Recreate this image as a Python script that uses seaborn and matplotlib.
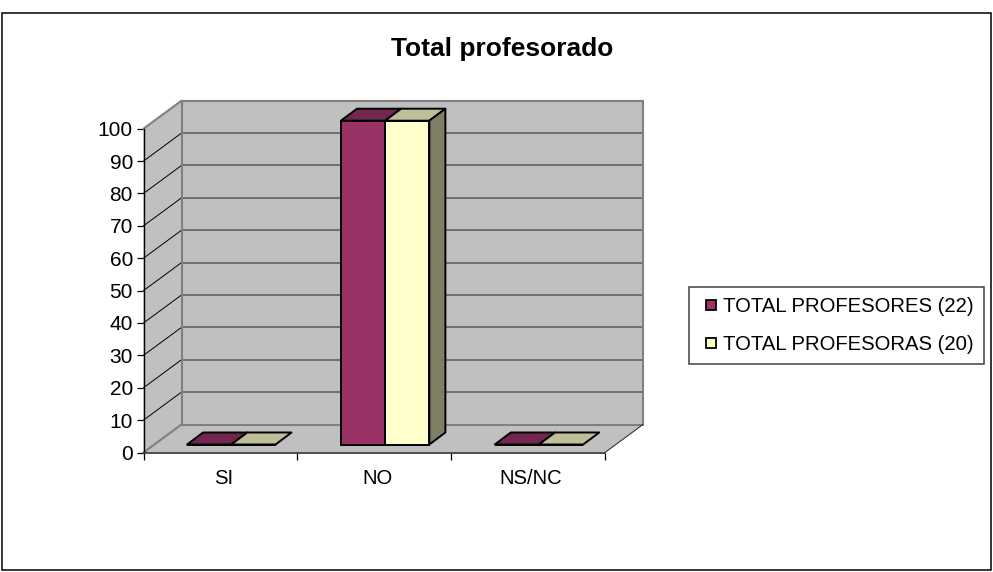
import pandas as pd
import seaborn as sns
import matplotlib.pyplot as plt
from matplotlib.lines import Line2D
from matplotlib.patches import Polygon, Rectangle
from matplotlib.transforms import ScaledTranslation

# datos del grafico
categorias = ['SI', 'NO', 'NS/NC']
profesores = [0, 100, 0]
profesoras = [0, 100, 0]
series = ['TOTAL PROFESORES (22)', 'TOTAL PROFESORAS (20)']
y_ticks = [0, 10, 20, 30, 40, 50, 60, 70, 80, 90, 100]

color_front = ['#993366', '#FFFFCC']
color_top = ['#732650', '#BFBF99']
color_side = '#7F7F66'
color_wall = '#C0C0C0'

W, H = 993, 572
sns.set_style('white')
plt.rcParams['font.family'] = ['Liberation Sans', 'DejaVu Sans']

df = pd.DataFrame({
    'cat': categorias * 2,
    'valor': profesores + profesoras,
    'serie': [series[0]] * 3 + [series[1]] * 3,
})

fig = plt.figure(figsize=(W / 100, H / 100), dpi=100)
ax = fig.add_axes([143.5 / W, 1 - 452.5 / H, 461.5 / W, 323.8 / H])

sns.barplot(data=df, x='cat', y='valor', hue='serie', order=categorias, hue_order=series,
            palette=color_front, saturation=1, width=0.575, gap=0, dodge=True,
            edgecolor='black', linewidth=1.4, legend=False, ax=ax, zorder=5)
ax.set_xlim(-0.5, 2.5)
ax.set_ylim(0, 100)
ax.set_xlabel('')
ax.set_ylabel('')
ax.patch.set_alpha(0)

# profundidad en unidades de los ejes
px_x = 3 / 461.5
px_y = 100 / 323.8
dx = 38 * px_x
dy = 28 * px_y
x0, x1 = -0.5, 2.5

# paredes y suelo
wall = [
    [(x0 + dx, dy), (x1 + dx, dy), (x1 + dx, 100 + dy), (x0 + dx, 100 + dy)],
    [(x0, 0), (x0 + dx, dy), (x0 + dx, 100 + dy), (x0, 100)],
    [(x0, 0), (x1, 0), (x1 + dx, dy), (x0 + dx, dy)],
]
for pts in wall:
    ax.add_patch(Polygon(pts, closed=True, fc=color_wall, ec='none', zorder=1, clip_on=False))

for v in y_ticks:
    borde = v in (0, 100)
    ax.plot([x0 + dx, x1 + dx], [v + dy, v + dy], color='#808080' if borde else '#5A5A5A',
            lw=1.5 if borde else 1.1, zorder=2, clip_on=False)
    ax.plot([x0, x0 + dx], [v, v + dy], color='#808080' if borde else 'black',
            lw=1.5 if borde else 0.7, zorder=2, clip_on=False)
ax.plot([x0 + dx, x0 + dx], [dy, 100 + dy], color='#808080', lw=1.5, zorder=2, clip_on=False)
ax.plot([x1 + dx, x1 + dx], [dy, 100 + dy], color='#808080', lw=1.5, zorder=2, clip_on=False)
ax.plot([x1, x1 + dx], [0, dy], color='#202020', lw=0.7, zorder=2, clip_on=False)

# caras 3D de las barras
off_x = 10.9 * px_x
off_y = 8 * px_y
bar_dx = 16 * px_x
bar_dy = 12 * px_y
for i, cont in enumerate(ax.containers):
    for bar in cont:
        bar.set_clip_on(False)
        bar.set_x(bar.get_x() + off_x)
        bar.set_y(off_y)
        xa = bar.get_x()
        xb = xa + bar.get_width()
        yb = off_y + bar.get_height()
        top = [(xa, yb), (xb, yb), (xb + bar_dx, yb + bar_dy), (xa + bar_dx, yb + bar_dy)]
        ax.add_patch(Polygon(top, closed=True, fc=color_top[i], ec='black', lw=1.4,
                             joinstyle='round', zorder=4, clip_on=False))
        if i == 1 and bar.get_height() > 0:
            side = [(xb, off_y), (xb + bar_dx, off_y + bar_dy), (xb + bar_dx, yb + bar_dy), (xb, yb)]
            ax.add_patch(Polygon(side, closed=True, fc=color_side, ec='black', lw=1.4,
                                 joinstyle='round', zorder=4, clip_on=False))

# ejes
for s in ['top', 'right']:
    ax.spines[s].set_visible(False)
ax.spines['left'].set(color='black', linewidth=1.0, zorder=6)
ax.spines['bottom'].set(color='#404040', linewidth=1.3, zorder=6)
ax.set_yticks(y_ticks)
ax.set_xticks([0, 1, 2])
ax.set_xticks([-0.5, 0.5, 1.5, 2.5], minor=True)
ax.tick_params(axis='y', left=True, length=4.7, width=0.9, color='black', pad=2.9,
               labelsize=15, labelcolor='black')
ax.tick_params(axis='x', which='major', bottom=False, length=0, pad=12,
               labelsize=14.6, labelcolor='black')
ax.tick_params(axis='x', which='minor', bottom=True, length=5, width=0.9, color='black')

# las etiquetas del eje x van un poco a la derecha
shift = ScaledTranslation(3 / 100, 0, fig.dpi_scale_trans)
for lab in ax.get_xticklabels():
    lab.set_transform(lab.get_transform() + shift)

fig.text(501.7 / W, 1 - 56 / H, 'Total profesorado', ha='center', va='baseline',
         fontsize=19, fontweight='bold', color='black')

# leyenda
handles = [Line2D([], [], ls='none', marker='s', ms=7, mfc=c, mec='black', mew=1.3) for c in color_front]
leg = fig.legend(handles, series, loc='center left', bbox_to_anchor=(689 / W, 1 - 325.5 / H),
                 frameon=True, fancybox=False, framealpha=1, edgecolor='#404040', fontsize=14.6,
                 handlelength=1.13, handletextpad=0.05, labelspacing=0.96, numpoints=1,
                 borderpad=0.5, borderaxespad=0, labelcolor='black')
leg.get_frame().set_linewidth(1.1)

# marco exterior
fig.add_artist(Rectangle((1.5 / W, 1 - 570 / H), 989 / W, 557 / H, transform=fig.transFigure,
                         fc='none', ec='black', lw=1.1))

fig.savefig('out.png', dpi=100)
